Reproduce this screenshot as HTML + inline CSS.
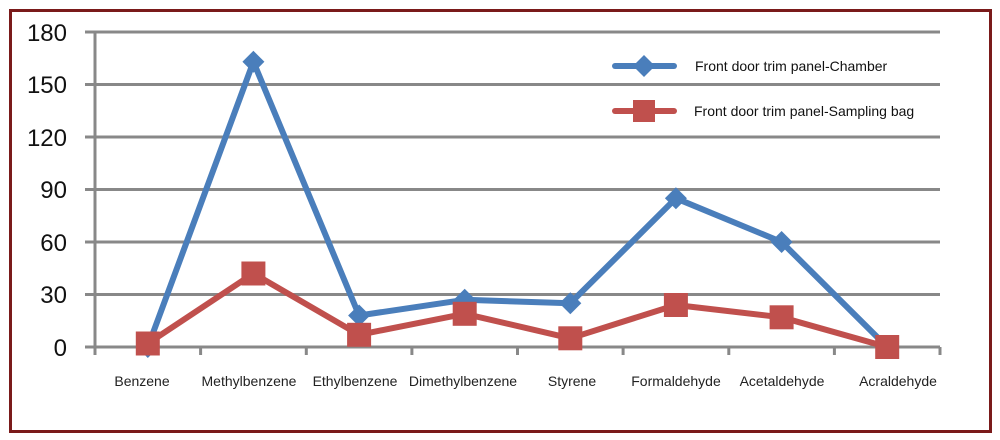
<!DOCTYPE html>
<html><head><style>body{margin:0;background:#fff}svg{display:block}</style></head><body>
<svg width="1000" height="440" xmlns="http://www.w3.org/2000/svg" font-family="Liberation Sans, sans-serif">
<rect x="0" y="0" width="1000" height="440" fill="#fff"/>
<rect x="10.5" y="10.5" width="980" height="421" fill="none" stroke="#7a1a1a" stroke-width="3"/>
<g stroke="#888" stroke-width="3">
<line x1="85" y1="32" x2="940" y2="32"/>
<line x1="85" y1="84.5" x2="940" y2="84.5"/>
<line x1="85" y1="137" x2="940" y2="137"/>
<line x1="85" y1="189.5" x2="940" y2="189.5"/>
<line x1="85" y1="242" x2="940" y2="242"/>
<line x1="85" y1="294.5" x2="940" y2="294.5"/>
<line x1="85" y1="347" x2="940" y2="347"/>
<line x1="95" y1="32" x2="95" y2="355"/>
<line x1="200.6" y1="347" x2="200.6" y2="355"/>
<line x1="306.3" y1="347" x2="306.3" y2="355"/>
<line x1="411.9" y1="347" x2="411.9" y2="355"/>
<line x1="517.5" y1="347" x2="517.5" y2="355"/>
<line x1="623.1" y1="347" x2="623.1" y2="355"/>
<line x1="728.8" y1="347" x2="728.8" y2="355"/>
<line x1="834.4" y1="347" x2="834.4" y2="355"/>
<line x1="940" y1="347" x2="940" y2="355"/>
</g>
<g font-size="24" fill="#111" text-anchor="end">
<text x="67" y="41">180</text><text x="67" y="93">150</text><text x="67" y="146">120</text>
<text x="67" y="198">90</text><text x="67" y="251">60</text><text x="67" y="303">30</text><text x="67" y="356">0</text>
</g>
<g font-size="14" fill="#222" text-anchor="middle">
<text x="142" y="386">Benzene</text><text x="249" y="386">Methylbenzene</text><text x="355" y="386">Ethylbenzene</text>
<text x="463" y="386">Dimethylbenzene</text><text x="572" y="386">Styrene</text><text x="676" y="386">Formaldehyde</text>
<text x="782" y="386">Acetaldehyde</text><text x="898" y="386">Acraldehyde</text>
</g>
<polyline fill="none" stroke="#4a7ebb" stroke-width="6" stroke-linejoin="round" points="147.8,347 253.4,61.8 359.1,315.5 464.7,299.8 570.3,303.3 675.9,198.3 781.6,242 887.2,347"/>
<g fill="#4a7ebb">
<polygon points="147.8,336 158.8,347 147.8,358 136.8,347"/>
<polygon points="253.4,50.8 264.4,61.8 253.4,72.8 242.4,61.8"/>
<polygon points="359.1,304.5 370.1,315.5 359.1,326.5 348.1,315.5"/>
<polygon points="464.7,288.8 475.7,299.8 464.7,310.8 453.7,299.8"/>
<polygon points="570.3,292.3 581.3,303.3 570.3,314.3 559.3,303.3"/>
<polygon points="675.9,187.3 686.9,198.3 675.9,209.3 664.9,198.3"/>
<polygon points="781.6,231 792.6,242 781.6,253 770.6,242"/>
<polygon points="887.2,336 898.2,347 887.2,358 876.2,347"/>
</g>
<polyline fill="none" stroke="#c0504d" stroke-width="6" stroke-linejoin="round" points="147.8,343.5 253.4,273.5 359.1,334.8 464.7,313.8 570.3,338.3 675.9,305 781.6,317.3 887.2,347"/>
<g fill="#c0504d">
<rect x="135.8" y="331.5" width="24" height="24"/>
<rect x="241.4" y="261.5" width="24" height="24"/>
<rect x="347.1" y="322.8" width="24" height="24"/>
<rect x="452.7" y="301.8" width="24" height="24"/>
<rect x="558.3" y="326.3" width="24" height="24"/>
<rect x="663.9" y="293" width="24" height="24"/>
<rect x="769.6" y="305.3" width="24" height="24"/>
<rect x="875.2" y="335" width="24" height="24"/>
</g>
<line x1="615" y1="66" x2="674" y2="66" stroke="#4a7ebb" stroke-width="6" stroke-linecap="round"/>
<polygon points="644,55 655,66 644,77 633,66" fill="#4a7ebb"/>
<line x1="615" y1="111" x2="674" y2="111" stroke="#c0504d" stroke-width="6" stroke-linecap="round"/>
<rect x="633" y="100" width="22" height="22" fill="#c0504d"/>
<g font-size="14" fill="#111">
<text x="695" y="71">Front door trim panel-Chamber</text>
<text x="694" y="116">Front door trim panel-Sampling bag</text>
</g>
</svg>
</body></html>
